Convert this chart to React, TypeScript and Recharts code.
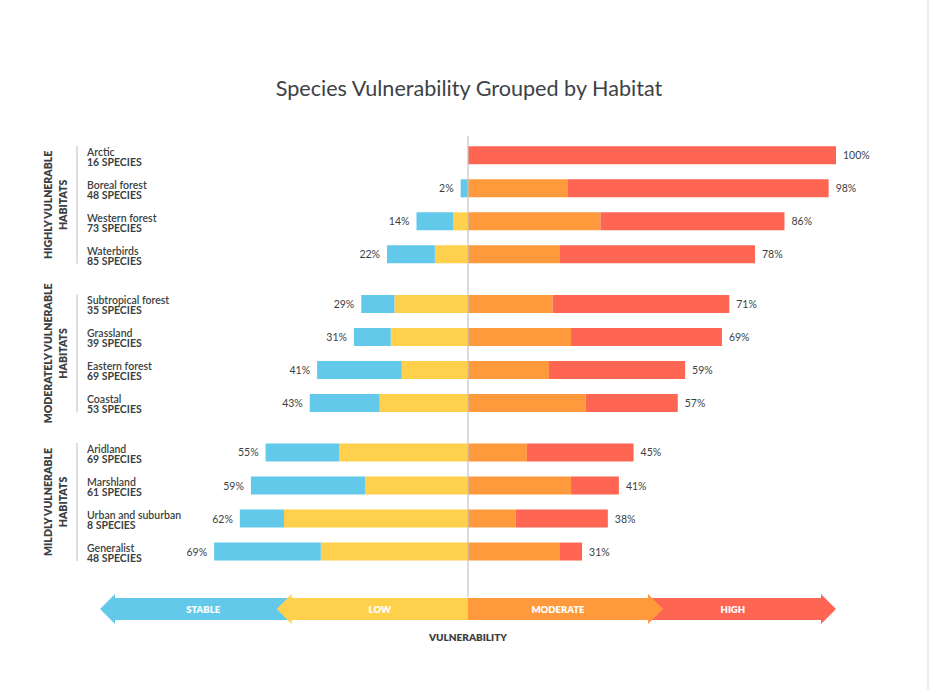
import React from 'react'
import {
  BarChart,
  Bar,
  XAxis,
  YAxis,
  LabelList,
  ReferenceLine,
  ReferenceArea
} from 'recharts'

// habitat groups, top to bottom
const GROUPS = [
  ['HIGHLY VULNERABLE', 'HABITATS'],
  ['MODERATELY VULNERABLE', 'HABITATS'],
  ['MILDLY VULNERABLE', 'HABITATS']
]
const GROUP_OF = [0, 0, 0, 0, 1, 1, 1, 1, 2, 2, 2, 2]

const HABITATS = [
  'Arctic',
  'Boreal forest',
  'Western forest',
  'Waterbirds',
  'Subtropical forest',
  'Grassland',
  'Eastern forest',
  'Coastal',
  'Aridland',
  'Marshland',
  'Urban and suburban',
  'Generalist'
]
const SPECIES = [16, 48, 73, 85, 35, 39, 69, 53, 69, 61, 8, 48]

// share of species (%) per vulnerability class
const STABLE = [0, 2, 10, 13, 9, 10, 23, 19, 20, 31, 12, 29]
const LOW = [0, 0, 4, 9, 20, 21, 18, 24, 35, 28, 50, 40]
const MODERATE = [0, 27, 36, 25, 23, 28, 22, 32, 16, 28, 13, 25]
const HIGH = [100, 71, 50, 53, 48, 41, 37, 25, 29, 13, 25, 6]

// legend arrows along the bottom, in % units of the x scale
const SCALE = [
  { label: 'STABLE', from: -100, to: -48, dir: 'left' },
  { label: 'LOW', from: -52, to: 0, dir: 'left' },
  { label: 'HIGH', from: 48, to: 100, dir: 'right' },
  { label: 'MODERATE', from: 0, to: 53, dir: 'right' }
]

const COLORS = {
  stable: '#63c9ea',
  low: '#fed04c',
  moderate: '#fe9a3c',
  high: '#fe6552'
}
const SCALE_COLORS: Record<string, string> = {
  STABLE: COLORS.stable,
  LOW: COLORS.low,
  MODERATE: COLORS.moderate,
  HIGH: COLORS.high
}

const TEXT = '#3b3f42'
const FONT = 'Lato, "Open Sans", sans-serif'

// slots: one per row, half a row of air between groups
const data = HABITATS.map((name, i) => ({
  name,
  species: SPECIES[i],
  slot: i + GROUP_OF[i] * 0.5,
  stable: -STABLE[i],
  low: -LOW[i],
  moderate: MODERATE[i],
  high: HIGH[i],
  leftTotal: STABLE[i] + LOW[i],
  rightTotal: MODERATE[i] + HIGH[i]
}))

const groupSpan = (g: number) => {
  const rows = data.filter((_, i) => GROUP_OF[i] === g)
  return [rows[0].slot, rows[rows.length - 1].slot]
}

const HabitatTick = ({ x, y, payload }: any) => {
  const row = data.find((d) => d.slot === payload.value)
  if (!row) return null
  return (
    <g fontFamily={FONT} fontSize={10.5} fill={TEXT}>
      <text x={x - 5} y={y + 1} textAnchor="start" fontWeight={600}>
        {row.name}
      </text>
      <text x={x - 5} y={y + 11} textAnchor="start" fontWeight={700}>
        {`${row.species} SPECIES`}
      </text>
    </g>
  )
}

const leftLabel = ({ x, y, width, height, value }: any) => {
  if (!value) return null
  const end = Math.min(x, x + width)
  return (
    <text
      x={end - 7}
      y={y + height / 2}
      dominantBaseline="central"
      textAnchor="end"
      fontFamily={FONT}
      fontSize={10.5}
      fill={TEXT}
    >
      {`${value}%`}
    </text>
  )
}

const rightLabel = ({ x, y, width, height, value }: any) => (
  <text
    x={Math.max(x, x + width) + 7}
    y={y + height / 2}
    dominantBaseline="central"
    textAnchor="start"
    fontFamily={FONT}
    fontSize={10.5}
    fill={TEXT}
  >
    {`${value}%`}
  </text>
)

const groupShape = (lines: string[]) => (props: any) => {
  const { x, y, height } = props
  const top = Math.min(y, y + height)
  const h = Math.abs(height)
  const cy = top + h / 2
  const lx = x - 23
  return (
    <g>
      <line x1={lx} x2={lx} y1={top} y2={top + h} stroke="#bdbdbd" strokeWidth={1} />
      {lines.map((t, k) => (
        <text
          key={t}
          transform={`translate(${lx - 29 + k * 15}, ${cy}) rotate(-90)`}
          textAnchor="middle"
          dominantBaseline="central"
          fontFamily={FONT}
          fontSize={10.5}
          fontWeight={800}
          fill={TEXT}
        >
          {t}
        </text>
      ))}
    </g>
  )
}

const HEAD = 15

const arrowShape = (item: { label: string; dir: string }) => (props: any) => {
  const { x, width } = props
  const y = Math.min(props.y, props.y + props.height)
  const height = Math.abs(props.height)
  const cy = y + height / 2
  const top = y + 4
  const bot = y + height - 4
  let pts = ''
  let mid = 0
  if (item.dir === 'left') {
    pts = `${x},${cy} ${x + HEAD},${y} ${x + HEAD},${top} ${x + width},${top} ${x + width},${bot} ${x + HEAD},${bot} ${x + HEAD},${y + height}`
    mid = x + HEAD + (width - HEAD) / 2
  } else {
    const r = x + width
    pts = `${r},${cy} ${r - HEAD},${y} ${r - HEAD},${top} ${x},${top} ${x},${bot} ${r - HEAD},${bot} ${r - HEAD},${y + height}`
    mid = x + (width - HEAD) / 2
  }
  return (
    <g>
      <polygon points={pts} fill={SCALE_COLORS[item.label]} />
      <text
        x={mid}
        y={cy}
        textAnchor="middle"
        dominantBaseline="central"
        fontFamily={FONT}
        fontSize={9.5}
        fontWeight={800}
        fill="#fff"
      >
        {item.label}
      </text>
    </g>
  )
}

export default function App() {
  return (
    <div
      style={{
        position: 'absolute',
        left: 0,
        top: 0,
        width: 929,
        height: 690,
        background: '#fff',
        borderRight: '2px solid #ececec',
        boxSizing: 'border-box'
      }}
    >
      <div
        style={{
          position: 'absolute',
          top: 75,
          left: 0,
          width: 938,
          textAlign: 'center',
          fontFamily: FONT,
          fontSize: 21.6,
          color: '#3d4246'
        }}
      >
        Species Vulnerability Grouped by Habitat
      </div>
      <BarChart
        width={929}
        height={690}
        data={data}
        layout="vertical"
        stackOffset="sign"
        margin={{ top: 135, right: 93, bottom: 33, left: 0 }}
        style={{ position: 'absolute', left: 0, top: 0 }}
      >
        <XAxis
          type="number"
          domain={[-100, 100]}
          tick={false}
          axisLine={false}
          tickLine={false}
          height={30}
          label={{
            value: 'VULNERABILITY',
            position: 'insideTop',
            offset: 7,
            fontFamily: FONT,
            fontSize: 10,
            fontWeight: 800,
            fill: TEXT
          }}
        />
        <YAxis
          type="number"
          dataKey="slot"
          domain={[-0.6, 14.3]}
          width={100}
          ticks={data.map((d) => d.slot)}
          interval={0}
          axisLine={false}
          tickLine={false}
          tick={<HabitatTick />}
          allowDataOverflow
        />
        <ReferenceLine
          segment={[
            { x: 0, y: -0.58 },
            { x: 0, y: 13.4 }
          ]}
          stroke="#c4c4c4"
          strokeWidth={1.2}
        />
        {GROUPS.map((lines, g) => {
          const [a, b] = groupSpan(g)
          return (
            <ReferenceArea
              key={lines[0]}
              x1={-100}
              x2={-99}
              y1={a - 0.27}
              y2={b + 0.3}
              ifOverflow="visible"
              shape={groupShape(lines)}
            />
          )
        })}
        <Bar dataKey="low" stackId="v" fill={COLORS.low} barSize={18} isAnimationActive={false} />
        <Bar dataKey="stable" stackId="v" fill={COLORS.stable} barSize={18} isAnimationActive={false}>
          <LabelList dataKey="leftTotal" content={leftLabel} />
        </Bar>
        <Bar dataKey="moderate" stackId="v" fill={COLORS.moderate} barSize={18} isAnimationActive={false} />
        <Bar dataKey="high" stackId="v" fill={COLORS.high} barSize={18} isAnimationActive={false}>
          <LabelList dataKey="rightTotal" content={rightLabel} />
        </Bar>
        {SCALE.map((s) => (
          <ReferenceArea
            key={s.label}
            x1={s.from}
            x2={s.to}
            y1={13.3}
            y2={14.21}
            ifOverflow="visible"
            shape={arrowShape(s)}
          />
        ))}
      </BarChart>
    </div>
  )
}
